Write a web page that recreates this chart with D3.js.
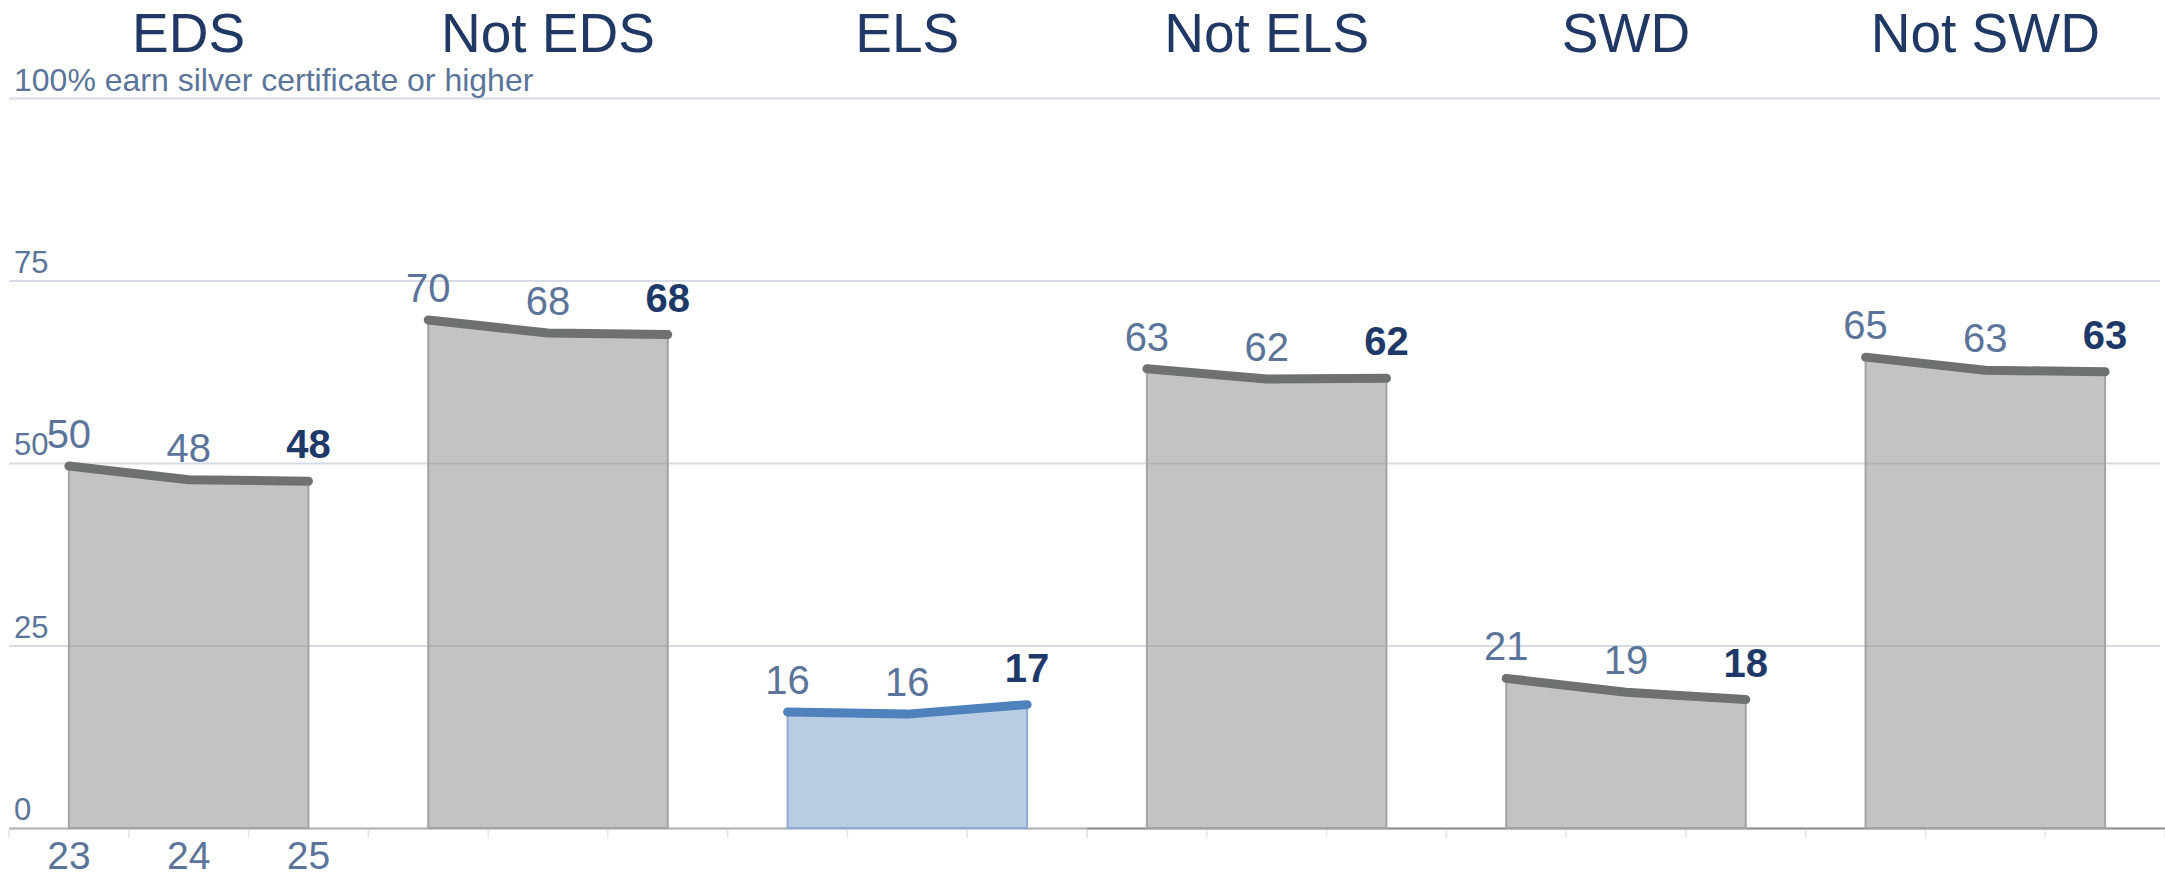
<!DOCTYPE html>
<html>
<head>
<meta charset="utf-8">
<script src="https://cdn.jsdelivr.net/npm/d3@7"></script>
<style>
  body { margin: 0; background: #fff; }
  svg { display: block; font-family: "Liberation Sans", Arial, sans-serif; }
</style>
</head>
<body>
<svg id="chart" width="2165" height="879"></svg>
<script>
"use strict";

var groups = ['EDS', 'Not EDS', 'ELS', 'Not ELS', 'SWD', 'Not SWD'];
var years = ['23', '24', '25'];
var eds = [49.6, 47.7, 47.5];
var notEds = [69.6, 67.8, 67.6];
var els = [15.9, 15.6, 16.9];
var notEls = [62.9, 61.5, 61.6];
var swd = [20.5, 18.6, 17.6];
var notSwd = [64.5, 62.7, 62.5];
var yTicks = [0, 25, 50, 75];
var topLabel = '100% earn silver certificate or higher';
var highlight = 'ELS';

var series = [eds, notEds, els, notEls, swd, notSwd];

function make_chart() {
  var svg = d3.select('#chart');
  var x0 = 9, x1 = 2165, yTop = 98, yBase = 828;
  var panelW = (x1 - x0) / groups.length;

  var _y = d3.scaleLinear().domain([0, 100]).range([yBase, yTop]);
  var _p = d3.scaleBand().domain(groups).range([x0, x1]);
  var _x = d3.scaleBand().domain(years).range([0, panelW]);

  // gridlines
  var grid = svg.append('g');
  grid.selectAll('line')
    .data(yTicks.concat([100]))
    .enter().append('line')
    .attr('x1', x0).attr('x2', 2160)
    .attr('y1', function (d) { return _y(d) + 0.5; })
    .attr('y2', function (d) { return _y(d) + 0.5; })
    .attr('stroke', '#d6dce7')
    .attr('stroke-width', 2);

  grid.selectAll('text')
    .data(yTicks)
    .enter().append('text')
    .attr('x', 14)
    .attr('y', function (d) { return _y(d) - 8; })
    .attr('fill', '#5b7499')
    .attr('font-size', 31)
    .text(function (d) { return d; });

  svg.append('text')
    .attr('x', 14)
    .attr('y', _y(100) - 7)
    .attr('fill', '#5b7499')
    .attr('font-size', 32)
    .text(topLabel);

  groups.forEach(function (g, i) {
    var data = series[i].map(function (v, j) { return { year: years[j], value: v }; });
    var hl = g === highlight;
    var panel = svg.append('g')
      .attr('transform', 'translate(' + _p(g) + ',0)');
    var cx = function (d) { return _x(d.year) + _x.bandwidth() / 2; };

    // baseline and small ticks
    panel.append('line')
      .attr('x1', 0).attr('x2', panelW)
      .attr('y1', yBase + 0.5).attr('y2', yBase + 0.5)
      .attr('stroke', i < 3 ? '#b4b4b4' : '#8e8e8e')
      .attr('stroke-width', 2);
    panel.selectAll('.tick')
      .data(years.concat(['end']))
      .enter().append('line')
      .attr('class', 'tick')
      .attr('x1', function (d, k) { return k * _x.step(); })
      .attr('x2', function (d, k) { return k * _x.step(); })
      .attr('y1', yBase + 2).attr('y2', yBase + 10)
      .attr('stroke', '#e6e6e6')
      .attr('stroke-width', 1.5);

    var area = d3.area().x(cx).y0(_y(0)).y1(function (d) { return _y(d.value); });
    var line = d3.line().x(cx).y(function (d) { return _y(d.value); });

    panel.append('path')
      .datum(data)
      .attr('d', area)
      .attr('fill', hl ? '#7ea2ce' : '#8f9190')
      .attr('fill-opacity', 0.55)
      .attr('stroke', hl ? '#8eabd3' : '#a2a4a3')
      .attr('stroke-width', 2);

    panel.append('path')
      .datum(data)
      .attr('d', line)
      .attr('fill', 'none')
      .attr('stroke', hl ? '#4f81bd' : '#6d7170')
      .attr('stroke-width', 9)
      .attr('stroke-linecap', 'round')
      .attr('stroke-linejoin', 'round');

    panel.selectAll('.val')
      .data(data)
      .enter().append('text')
      .attr('class', 'val')
      .attr('x', cx)
      .attr('y', function (d, k) { return _y(d.value) - (k === 2 ? 23 : 18); })
      .attr('text-anchor', 'middle')
      .attr('font-size', 40)
      .attr('font-weight', function (d, k) { return k === 2 ? 'bold' : 'normal'; })
      .attr('fill', function (d, k) { return k === 2 ? '#1e3868' : '#5b7499'; })
      .text(function (d) { return Math.round(d.value); });

    panel.append('text')
      .attr('x', panelW / 2)
      .attr('y', 52)
      .attr('text-anchor', 'middle')
      .attr('font-size', 55)
      .attr('fill', '#1f3864')
      .text(g);

    // year labels only under the first panel
    if (i === 0) {
      panel.selectAll('.yr')
        .data(data)
        .enter().append('text')
        .attr('class', 'yr')
        .attr('x', cx)
        .attr('y', 869)
        .attr('text-anchor', 'middle')
        .attr('font-size', 39)
        .attr('fill', '#5b7499')
        .text(function (d) { return d.year; });
    }
  });
}

make_chart();
</script>
</body>
</html>
